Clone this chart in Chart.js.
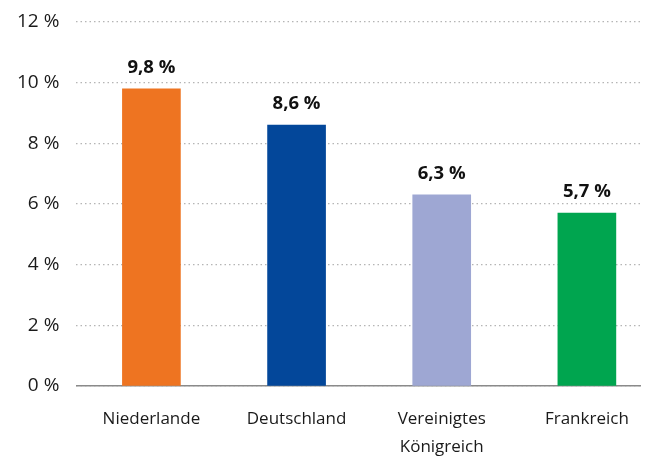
<!DOCTYPE html>
<html>
<head>
<meta charset="utf-8">
<script src="https://cdn.jsdelivr.net/npm/chart.js@4"></script>
<style>
  html, body { margin: 0; padding: 0; background: #fff; }
  #wrap { width: 651px; height: 458px; position: relative; }
</style>
</head>
<body>
<div id="wrap"><canvas id="mainChart"></canvas></div>
<script>
// Daten aus der Vorlage
const categories = ['Niederlande', 'Deutschland', ['Vereinigtes', 'Königreich'], 'Frankreich'];
const values = [9.8, 8.6, 6.3, 5.7];
const barColors = ['#EE7421', '#03479A', '#9EA7D3', '#00A54F'];
const yTicks = [0, 2, 4, 6, 8, 10, 12];

const fontFamily = '"Open Sans", "DejaVu Sans", sans-serif';

// Werte oberhalb der Balken
const valueLabels = {
    id: 'valueLabels',
    afterDatasetsDraw(chart) {
        const ctx = chart.ctx;
        const meta = chart.getDatasetMeta(0);
        ctx.save();
        ctx.font = 'bold 18.5px ' + fontFamily;
        ctx.fillStyle = '#111';
        ctx.textAlign = 'center';
        ctx.textBaseline = 'middle';
        meta.data.forEach((bar, i) => {
            const txt = values[i].toFixed(1).replace('.', ',') + ' %';
            ctx.fillText(txt, bar.x, bar.y - 21);
        });
        ctx.restore();
    }
};

const ctx = document.getElementById('mainChart').getContext('2d');
new Chart(ctx, {
    type: 'bar',
    data: {
        datasets: [{
            data: values.map((v, i) => ({ x: i, y: v })),
            backgroundColor: barColors,
            barThickness: 58,
            borderWidth: 0
        }]
    },
    options: {
        responsive: true,
        maintainAspectRatio: false,
        animation: false,
        layout: { padding: { top: 22, right: 11, bottom: 0, left: 0 } },
        plugins: {
            legend: { display: false },
            tooltip: { enabled: false }
        },
        scales: {
            x: {
                type: 'linear',
                offset: false,
                min: -0.517,
                max: 3.366,
                grid: { display: false, drawTicks: false },
                border: { display: true, color: '#8a8a8a', width: 1.5 },
                afterBuildTicks: s => { s.ticks = categories.map((c, i) => ({ value: i })); },
                afterFit: s => { s.height = 72; },
                ticks: {
                    color: '#1a1a1a',
                    font: { size: 17, family: fontFamily, lineHeight: 1.65 },
                    padding: 19,
                    maxRotation: 0,
                    autoSkip: false,
                    callback: v => categories[v]
                }
            },
            y: {
                min: 0,
                max: 12,
                afterBuildTicks: s => { s.ticks = yTicks.map(v => ({ value: v })); },
                afterFit: s => { s.paddingTop = 0; s.paddingBottom = 0; },
                grid: { color: '#b5b5b5', lineWidth: 1.2, drawTicks: false },
                border: { display: false, dash: [1.5, 3] },
                ticks: {
                    color: '#1a1a1a',
                    font: { size: 19, family: fontFamily },
                    padding: 17,
                    callback: v => v + ' %'
                }
            }
        }
    },
    plugins: [valueLabels]
});
</script>
</body>
</html>
